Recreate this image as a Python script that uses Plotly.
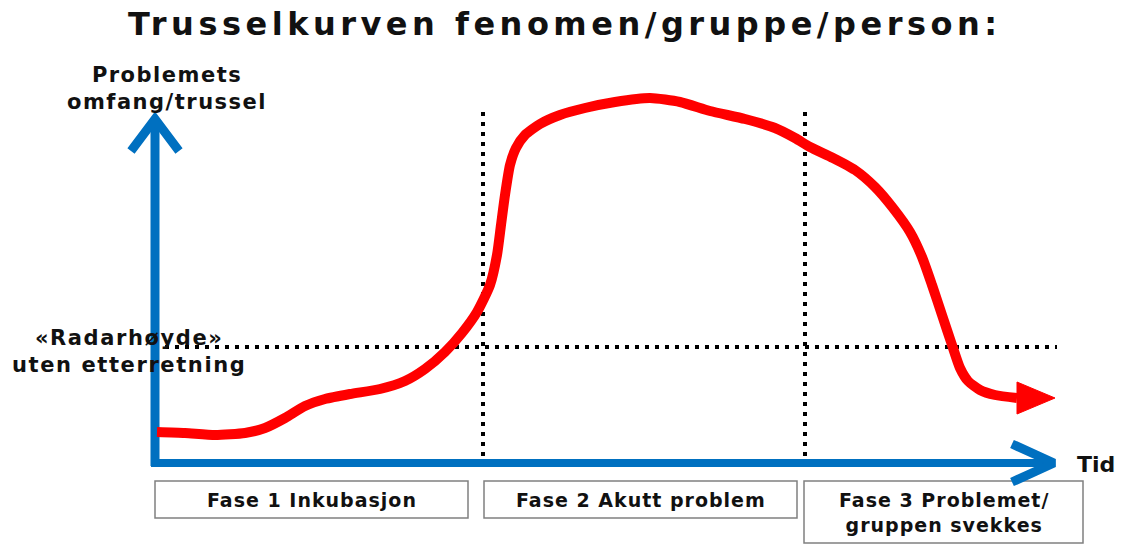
import plotly.graph_objects as go

# ---- data (diagram units = pixel-like coordinates, y grows downward) ----
curve_x = [157, 185, 215, 245, 265, 285, 305, 325, 350, 380, 405, 425, 445, 462, 477, 490, 497, 501,
           505, 510, 516, 525, 540, 560, 585, 615, 650, 680, 710, 745, 775, 795, 810, 833, 855, 875,
           893, 910, 922, 932, 942, 952, 960, 968, 980, 995, 1017]
curve_y = [432, 433, 435, 433, 428, 418, 406, 399, 394, 389, 381, 369, 352, 333, 312, 285, 255, 225,
           195, 165, 148, 135, 124, 115, 108, 102, 98, 102, 111, 119, 128, 138, 147, 158, 170, 187,
           208, 232, 257, 285, 315, 345, 368, 381, 390, 395, 398]
red_head_x = [1017, 1055, 1017, 1017]
red_head_y = [382, 398, 414, 382]

y_axis_x = [155, 155]
y_axis_y = [466, 121]
x_axis_x = [151, 1052]
x_axis_y = [463, 463]
up_head_x = [131, 155, 179]
up_head_y = [151, 119, 151]
right_head_x = [1012, 1054, 1012]
right_head_y = [444, 463, 482]

phase_x = [483, 805]
phase_y_top = 112
phase_y_bottom = 466
radar_y = 347
radar_x = [155, 1057]

box_x0 = [155, 484, 804]
box_x1 = [468, 797, 1083]
box_y0 = [481, 481, 481]
box_y1 = [518, 518, 543]
box_labels = ["Fase 1 Inkubasjon", "Fase 2 Akutt problem", "Fase 3 Problemet/<br>gruppen svekkes"]

title_text = "Trusselkurven fenomen/gruppe/person:"
y_label = ["Problemets", "omfang/trussel"]
radar_label = ["«Radarhøyde»", "uten etterretning"]
x_label = "Tid"

RED = "#ff0000"
BLUE = "#0070c0"
FONT = "DejaVu Sans"
INK = "#111111"


def spaced(txt, px):
    return '<span style="letter-spacing:%spx">%s</span>' % (px, txt)


def spaced_lines(lines, px):
    return "<br>".join(spaced(t, px) for t in lines)


fig = go.Figure()

# dotted guide lines
for px in phase_x:
    fig.add_trace(go.Scatter(x=[px, px], y=[phase_y_top, phase_y_bottom], mode="lines",
                             line=dict(color="black", width=4, dash="4px,6px"), hoverinfo="skip"))
fig.add_trace(go.Scatter(x=radar_x, y=[radar_y, radar_y], mode="lines",
                         line=dict(color="black", width=4, dash="4px,6px"), hoverinfo="skip"))

# blue axes
fig.add_trace(go.Scatter(x=y_axis_x, y=y_axis_y, mode="lines", line=dict(color=BLUE, width=9), hoverinfo="skip"))
fig.add_trace(go.Scatter(x=x_axis_x, y=x_axis_y, mode="lines", line=dict(color=BLUE, width=8), hoverinfo="skip"))
fig.add_trace(go.Scatter(x=up_head_x, y=up_head_y, mode="lines", line=dict(color=BLUE, width=9), hoverinfo="skip"))
fig.add_trace(go.Scatter(x=right_head_x, y=right_head_y, mode="lines", line=dict(color=BLUE, width=9), hoverinfo="skip"))

# red threat curve
fig.add_trace(go.Scatter(x=curve_x, y=curve_y, mode="lines",
                         line=dict(color=RED, width=10, shape="spline", smoothing=0.6), hoverinfo="skip"))
fig.add_trace(go.Scatter(x=red_head_x, y=red_head_y, mode="lines", fill="toself", fillcolor=RED,
                         line=dict(color=RED, width=1), hoverinfo="skip"))

# phase boxes
for x0, x1, y0, y1, lab in zip(box_x0, box_x1, box_y0, box_y1, box_labels):
    fig.add_shape(type="rect", x0=x0, x1=x1, y0=y0, y1=y1, xref="x", yref="y",
                  line=dict(color="#808080", width=1.5), fillcolor="white", layer="below")
    fig.add_annotation(x=(x0 + x1) / 2, y=(y0 + y1) / 2, text=spaced_lines(lab.split("<br>"), 1),
                       showarrow=False, align="center",
                       font=dict(family=FONT, size=19, color=INK, weight="bold"))

# texts
fig.add_annotation(x=565, y=24, text=spaced(title_text, 4.5), showarrow=False,
                   font=dict(family=FONT, size=32, color=INK, weight="bold"))
fig.add_annotation(x=167, y=88, text=spaced_lines(y_label, 1.5), showarrow=False, align="center",
                   font=dict(family=FONT, size=21, color=INK, weight="bold"))
fig.add_annotation(x=129, y=351, text=spaced_lines(radar_label, 1.6), showarrow=False, align="center",
                   font=dict(family=FONT, size=21, color=INK, weight="bold"))
fig.add_annotation(x=1096, y=464, text=x_label, showarrow=False,
                   font=dict(family=FONT, size=22, color=INK, weight="bold"))

fig.update_layout(
    width=1122, height=544, margin=dict(l=0, r=0, t=0, b=0),
    paper_bgcolor="white", plot_bgcolor="white", showlegend=False,
    xaxis=dict(range=[0, 1122], visible=False, fixedrange=True),
    yaxis=dict(range=[544, 0], visible=False, fixedrange=True),
)

fig.write_html("out.html", config={"displayModeBar": False},
               post_script="document.body.style.margin='0px';")
